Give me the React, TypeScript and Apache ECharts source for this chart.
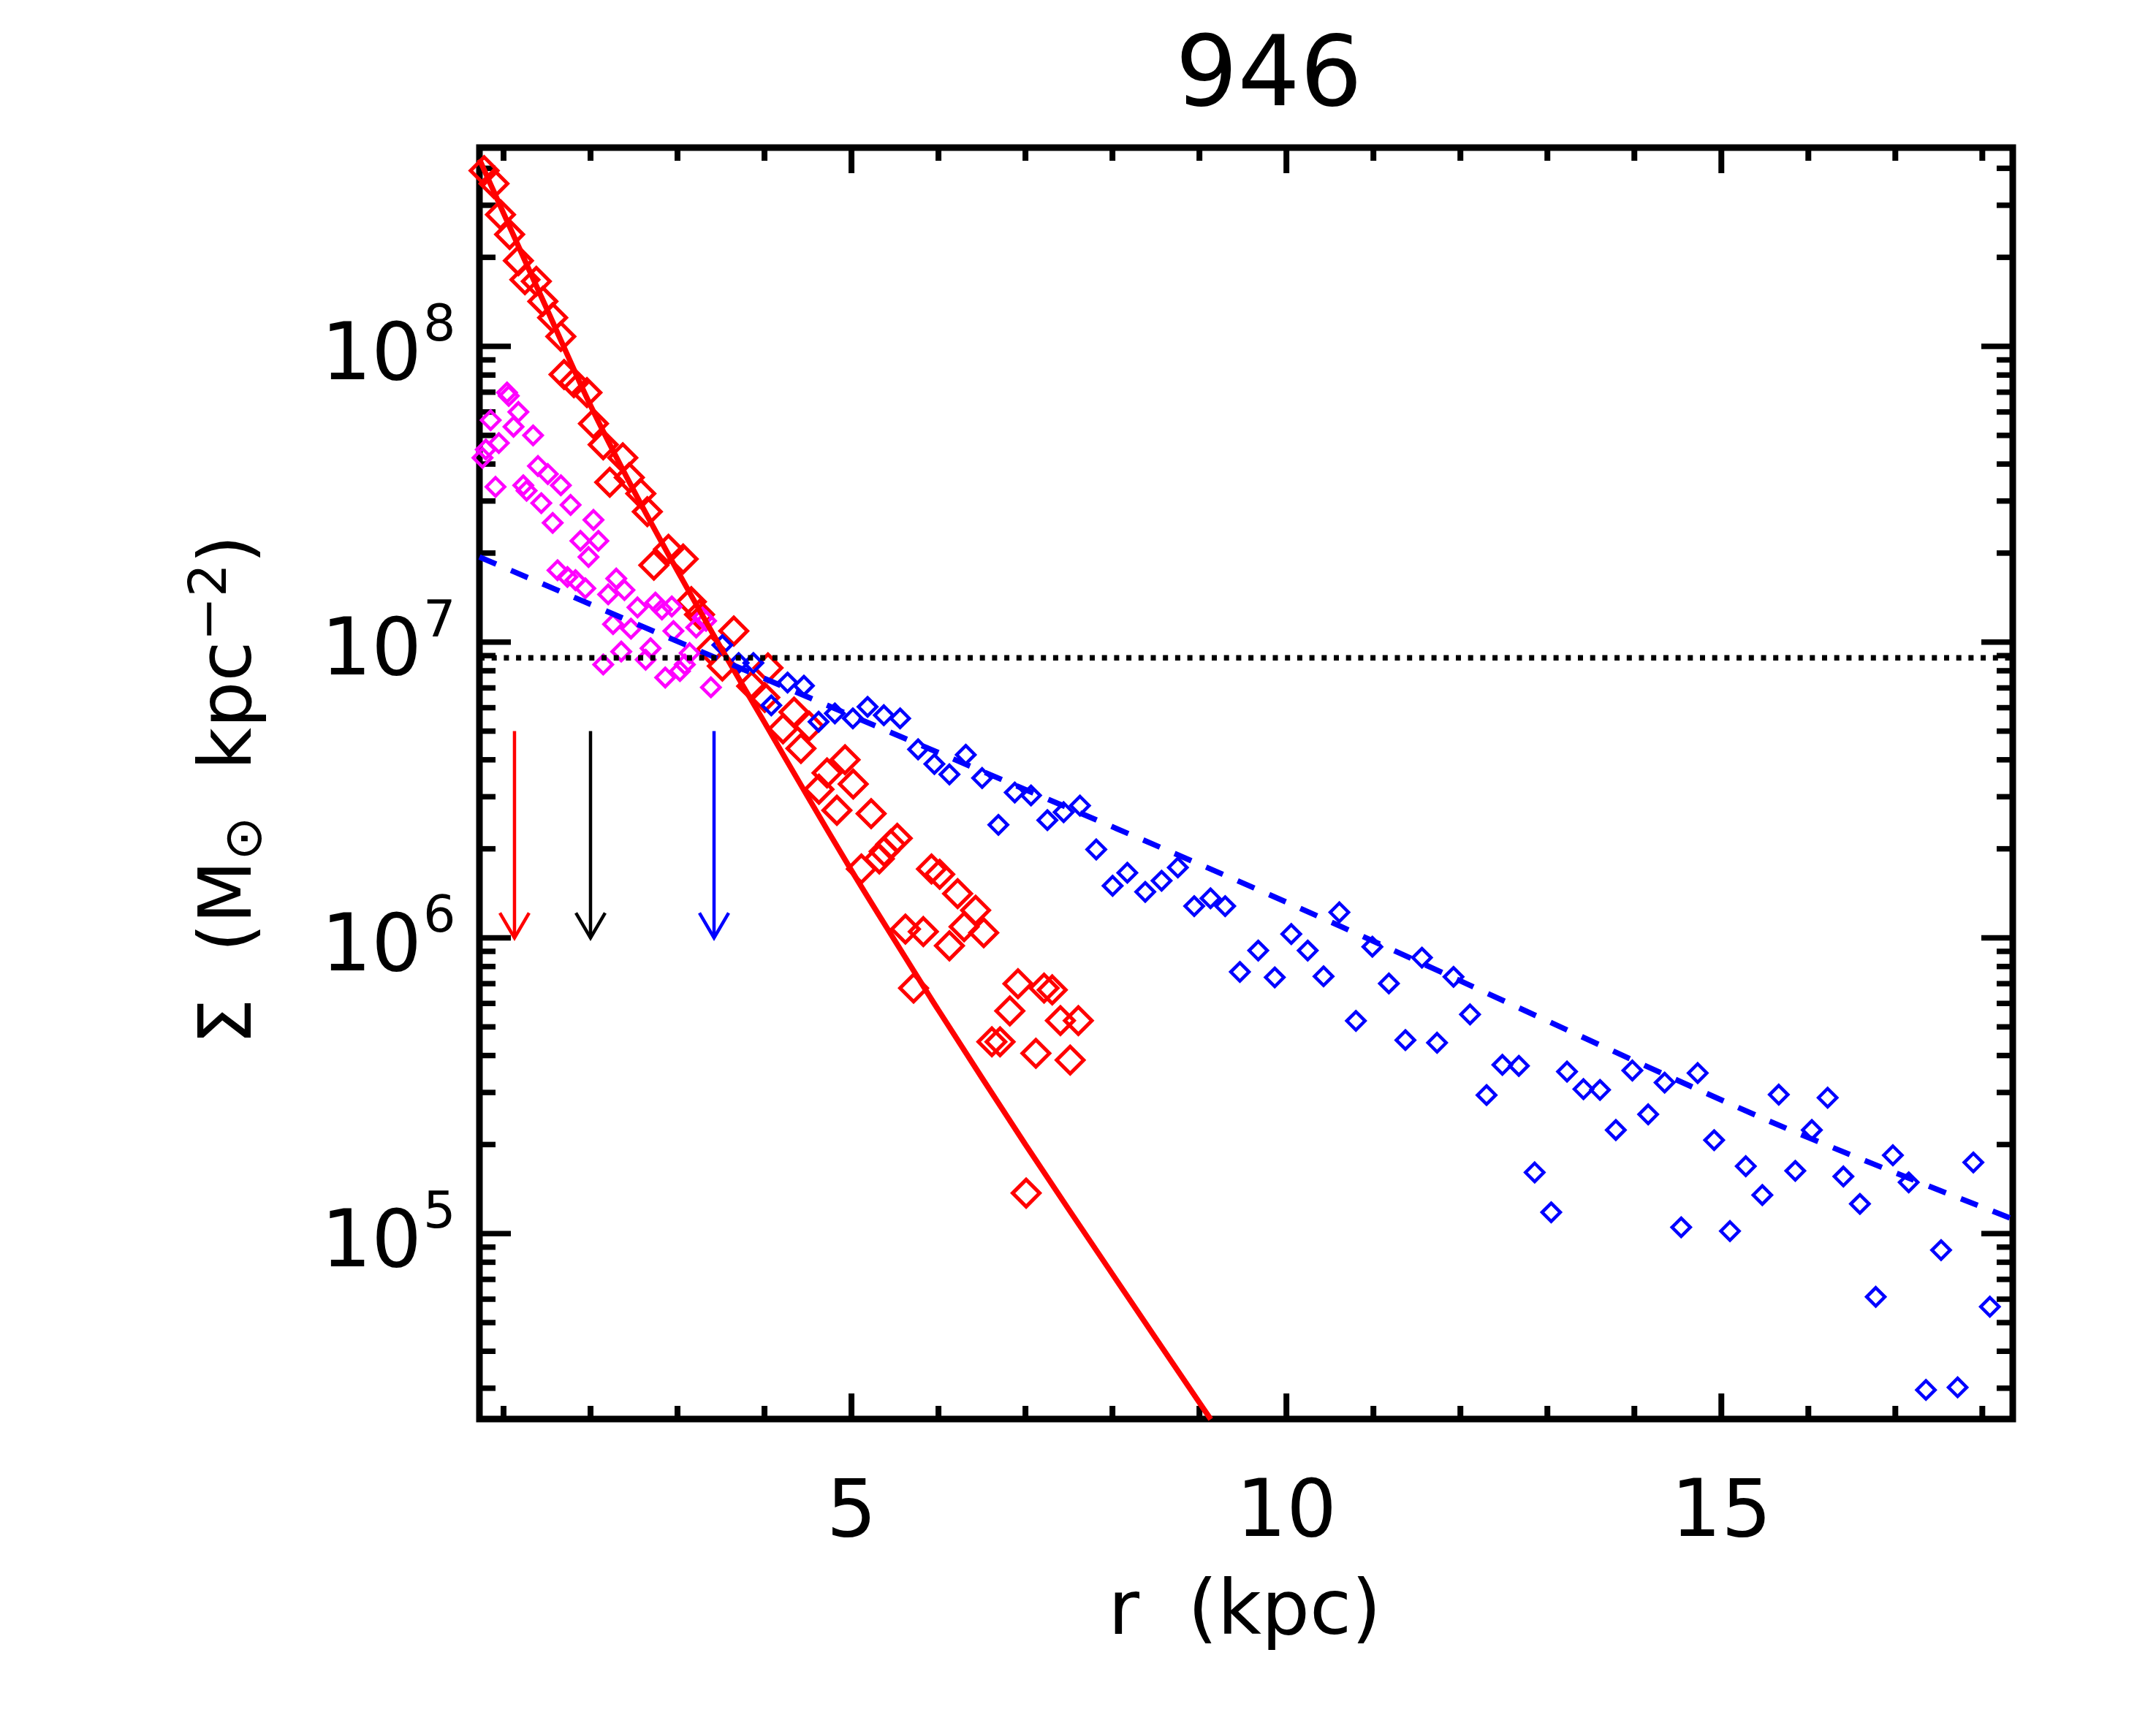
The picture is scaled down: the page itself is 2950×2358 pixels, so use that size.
import React, { useEffect, useRef } from "react";
import * as echarts from "echarts";

const TITLE = "946";
const X_TITLE = "r\u00A0\u00A0(kpc)";
const X_MIN = 0.723;
const X_MAX = 18.35;
const Y_MIN = 2.36e4;
const Y_MAX = 4.7e8;

const X_MAJOR_TICKS = [5, 10, 15];
const X_MINOR_TICKS = [1, 2, 3, 4, 6, 7, 8, 9, 11, 12, 13, 14, 16, 17, 18];
const Y_MAJOR_TICKS = [1e5, 1e6, 1e7, 1e8];
const Y_MINOR_TICKS = [
  3e4, 4e4, 5e4, 6e4, 7e4, 8e4, 9e4,
  2e5, 3e5, 4e5, 5e5, 6e5, 7e5, 8e5, 9e5,
  2e6, 3e6, 4e6, 5e6, 6e6, 7e6, 8e6, 9e6,
  2e7, 3e7, 4e7, 5e7, 6e7, 7e7, 8e7, 9e7,
  2e8, 3e8, 4e8,
];

// red diamonds
const RED_R = [0.777, 0.890, 0.965, 1.070, 1.171, 1.246, 1.377, 1.452, 1.565, 1.659, 1.696, 1.809, 1.959, 2.034, 2.146, 2.221, 2.371, 2.446, 2.578, 2.653, 2.728, 2.896, 3.065, 3.159, 3.253, 3.384, 3.516, 3.647, 3.853, 4.003, 4.040, 4.213, 4.340, 4.419, 4.513, 4.626, 4.719, 4.832, 4.926, 5.020, 5.114, 5.226, 5.320, 5.376, 5.451, 5.526, 5.620, 5.714, 5.826, 5.920, 6.014, 6.126, 6.220, 6.295, 6.427, 6.520, 6.614, 6.708, 6.820, 6.914, 7.008, 7.120, 7.214, 7.308, 7.402, 7.514, 7.608];
const RED_S = [3.93e8, 3.55e8, 2.79e8, 2.39e8, 1.95e8, 1.68e8, 1.66e8, 1.42e8, 1.25e8, 1.08e8, 8.03e7, 7.54e7, 6.98e7, 5.48e7, 4.65e7, 3.47e7, 4.2e7, 3.6e7, 3.18e7, 2.76e7, 1.82e7, 2.06e7, 1.91e7, 1.37e7, 1.24e7, 9.42e6, 8.3e6, 1.09e7, 7.1e6, 6.5e6, 8.18e6, 5.09e6, 5.8e6, 4.37e6, 5.2e6, 3.18e6, 3.61e6, 2.7e6, 4.0e6, 3.31e6, 1.71e6, 2.63e6, 1.85e6, 1.96e6, 2.07e6, 2.17e6, 1.07e6, 6.76e5, 1.05e6, 1.71e6, 1.64e6, 9.4e5, 1.41e6, 1.09e6, 1.24e6, 1.04e6, 4.45e5, 4.45e5, 5.66e5, 7.0e5, 1.37e5, 4.07e5, 6.76e5, 6.67e5, 5.25e5, 3.86e5, 5.25e5];

// magenta diamonds
const MAG_R = [0.758, 0.796, 0.852, 0.908, 0.946, 1.040, 1.060, 1.115, 1.171, 1.227, 1.265, 1.340, 1.396, 1.434, 1.509, 1.565, 1.621, 1.659, 1.734, 1.771, 1.827, 1.884, 1.940, 1.977, 2.034, 2.090, 2.146, 2.203, 2.259, 2.296, 2.353, 2.390, 2.465, 2.540, 2.634, 2.690, 2.746, 2.821, 2.859, 2.934, 2.953, 3.028, 3.084, 3.140, 3.215, 3.290, 3.328, 3.384];
const MAG_S = [4.2e7, 4.48e7, 5.63e7, 3.35e7, 4.71e7, 6.98e7, 6.8e7, 5.35e7, 6.0e7, 3.39e7, 3.25e7, 5.0e7, 3.94e7, 2.95e7, 3.7e7, 2.53e7, 1.75e7, 3.39e7, 1.66e7, 2.91e7, 1.62e7, 2.2e7, 1.52e7, 1.94e7, 2.59e7, 2.2e7, 8.4e6, 1.45e7, 1.15e7, 1.64e7, 9.29e6, 1.5e7, 1.11e7, 1.31e7, 8.72e6, 9.53e6, 1.36e7, 1.29e7, 7.59e6, 1.32e7, 1.09e7, 7.98e6, 8.4e6, 9.18e6, 1.12e7, 1.21e7, 1.18e7, 7.03e6];

// blue diamonds
const BLUE_R = [3.516, 3.703, 3.872, 4.078, 4.265, 4.453, 4.622, 4.809, 5.016, 5.185, 5.372, 5.559, 5.766, 5.953, 6.126, 6.314, 6.502, 6.689, 6.877, 7.064, 7.252, 7.439, 7.627, 7.814, 8.002, 8.171, 8.377, 8.565, 8.752, 8.940, 9.127, 9.296, 9.465, 9.676, 9.866, 10.056, 10.245, 10.427, 10.609, 10.799, 10.988, 11.178, 11.368, 11.558, 11.732, 11.921, 12.111, 12.301, 12.483, 12.672, 12.854, 13.044, 13.226, 13.415, 13.605, 13.787, 13.977, 14.159, 14.348, 14.538, 14.728, 14.917, 15.099, 15.281, 15.471, 15.660, 15.850, 16.040, 16.222, 16.403, 16.593, 16.775, 16.972, 17.154, 17.352, 17.526, 17.716, 17.897, 18.087];
const BLUE_S = [9.77e6, 8.5e6, 8.5e6, 6.11e6, 7.3e6, 7.12e6, 5.38e6, 5.74e6, 5.52e6, 6.04e6, 5.66e6, 5.52e6, 4.34e6, 3.87e6, 3.57e6, 4.16e6, 3.47e6, 2.41e6, 3.1e6, 3.03e6, 2.5e6, 2.66e6, 2.8e6, 1.99e6, 1.5e6, 1.66e6, 1.43e6, 1.56e6, 1.73e6, 1.28e6, 1.36e6, 1.28e6, 7.67e5, 9.06e5, 7.35e5, 1.03e6, 9.06e5, 7.41e5, 1.22e6, 5.24e5, 9.33e5, 7.01e5, 4.51e5, 8.57e5, 4.42e5, 7.38e5, 5.51e5, 2.94e5, 3.72e5, 3.69e5, 1.61e5, 1.18e5, 3.53e5, 3.08e5, 3.06e5, 2.24e5, 3.56e5, 2.53e5, 3.24e5, 1.05e5, 3.49e5, 2.07e5, 1.02e5, 1.69e5, 1.35e5, 2.95e5, 1.63e5, 2.24e5, 2.88e5, 1.56e5, 1.26e5, 6.11e4, 1.84e5, 1.49e5, 2.96e4, 8.79e4, 3.02e4, 1.74e5, 5.66e4];

// red solid model curve
const RED_FIT_R = [0.723, 1.0, 1.5, 2.0, 2.5, 3.0, 3.5, 4.0, 4.5, 5.0, 5.5, 6.0, 7.0, 8.0, 9.13];
const RED_FIT_S = [4.29e8, 2.82e8, 1.334e8, 6.31e7, 3.24e7, 1.74e7, 9.55e6, 5.35e6, 2.99e6, 1.69e6, 9.77e5, 5.69e5, 2.0e5, 7.29e4, 2.355e4];

// blue dashed model curve
const BLUE_FIT_R = [0.723, 4.53, 10.0, 15.51, 18.35];
const BLUE_FIT_S = [1.94e7, 6.46e6, 1.32e6, 2.43e5, 1.12e5];

// dotted horizontal level
const LEVEL_S = 8.85e6;

// arrows
const ARROW_R = [1.126, 2.0, 3.42];
const ARROW_TOP = 5.0e6;
const ARROW_BOTTOM = 1.0e6;
const ARROW_COLORS = ["#ff0000", "#000000", "#0000ff"];

const FONT = "'DejaVu Sans', 'Liberation Sans', sans-serif";

function pairs(xs: number[], ys: number[]) {
  return xs.map((x, i) => [x, ys[i]]);
}

function diamonds(name: string, xs: number[], ys: number[], color: string, size: number, bw: number) {
  return {
    name,
    type: "scatter",
    data: pairs(xs, ys),
    symbol: "diamond",
    symbolSize: size,
    itemStyle: { color: "rgba(0,0,0,0)", borderColor: color, borderWidth: bw, opacity: 1 },
    silent: true,
  };
}

export default function App() {
  const ref = useRef<HTMLDivElement>(null);
  useEffect(() => {
    if (!ref.current) return;
    const chart = echarts.init(ref.current, null, { renderer: "svg" });
    const hidden = {
      axisLine: { show: false },
      axisTick: { show: false },
      axisLabel: { show: false },
      splitLine: { show: false },
    };
    const option: any = {
      animation: false,
      backgroundColor: "#ffffff",
      grid: {
        left: 656,
        right: 196,
        top: 202,
        bottom: 416,
        show: true,
        borderColor: "#000",
        borderWidth: 9,
        backgroundColor: "rgba(0,0,0,0)",
      },
      xAxis: { type: "value", min: X_MIN, max: X_MAX, ...hidden },
      yAxis: { type: "log", logBase: 10, min: Y_MIN, max: Y_MAX, ...hidden },
      series: [
        diamonds("red", RED_R, RED_S, "#ff0000", 37, 5),
        diamonds("magenta", MAG_R, MAG_S, "#ff00ff", 25, 4.5),
        diamonds("blue", BLUE_R, BLUE_S, "#0000ff", 25, 4.5),
        {
          type: "line",
          data: pairs(RED_FIT_R, RED_FIT_S),
          symbol: "none",
          smooth: 0.3,
          lineStyle: { color: "#ff0000", width: 7.5, opacity: 1 },
          silent: true,
        },
        {
          type: "line",
          data: pairs(BLUE_FIT_R, BLUE_FIT_S),
          symbol: "none",
          smooth: 0.3,
          lineStyle: { color: "#0000ff", width: 7.5, type: [25, 22], opacity: 1 },
          silent: true,
        },
        {
          type: "line",
          data: [[X_MIN, LEVEL_S], [X_MAX, LEVEL_S]],
          symbol: "none",
          lineStyle: { color: "#000000", width: 7.5, type: [7, 9.7], opacity: 1 },
          silent: true,
        },
        {
          type: "custom",
          data: ARROW_R.map((r) => [r, ARROW_TOP, ARROW_BOTTOM]),
          silent: true,
          renderItem: (params: any, api: any) => {
            const x = api.value(0);
            const p1 = api.coord([x, api.value(1)]);
            const p2 = api.coord([x, api.value(2)]);
            const color = ARROW_COLORS[params.dataIndex];
            const st = { stroke: color, lineWidth: 4.5, fill: "none" };
            return {
              type: "group",
              children: [
                { type: "line", shape: { x1: p1[0], y1: p1[1], x2: p2[0], y2: p2[1] }, style: st },
                {
                  type: "polyline",
                  shape: { points: [[p2[0] - 20, p2[1] - 34], [p2[0], p2[1]], [p2[0] + 20, p2[1] - 34]] },
                  style: st,
                },
              ],
            };
          },
        },
        {
          type: "custom",
          data: [
            ...X_MAJOR_TICKS.map((v) => [v, Y_MIN, 1]),
            ...X_MINOR_TICKS.map((v) => [v, Y_MIN, 0]),
          ],
          silent: true,
          clip: false,
          renderItem: (params: any, api: any) => {
            const v = api.value(0);
            const major = api.value(2) === 1;
            const b = api.coord([v, Y_MIN]);
            const t = api.coord([v, Y_MAX]);
            const len = major ? 35 : 18;
            const st = { stroke: "#000", lineWidth: 8 };
            const children: any[] = [
              { type: "line", shape: { x1: b[0], y1: b[1], x2: b[0], y2: b[1] - len }, style: st },
              { type: "line", shape: { x1: t[0], y1: t[1], x2: t[0], y2: t[1] + len }, style: st },
            ];
            if (major) {
              children.push({
                type: "text",
                x: b[0],
                y: b[1] + 122,
                style: { text: String(v), fontSize: 108, fontFamily: FONT, fill: "#000", align: "center", verticalAlign: "middle" },
              });
            }
            return { type: "group", children };
          },
        },
        {
          type: "custom",
          data: [
            ...Y_MAJOR_TICKS.map((v) => [X_MIN, v, 1]),
            ...Y_MINOR_TICKS.map((v) => [X_MIN, v, 0]),
          ],
          silent: true,
          clip: false,
          renderItem: (params: any, api: any) => {
            const v = api.value(1);
            const major = api.value(2) === 1;
            const l = api.coord([X_MIN, v]);
            const r = api.coord([X_MAX, v]);
            const len = major ? 43 : 22;
            const st = { stroke: "#000", lineWidth: 7.5 };
            const children: any[] = [
              { type: "line", shape: { x1: l[0], y1: l[1], x2: l[0] + len, y2: l[1] }, style: st },
              { type: "line", shape: { x1: r[0], y1: r[1], x2: r[0] - len, y2: r[1] }, style: st },
            ];
            if (major) {
              const e = Math.round(Math.log10(v));
              children.push({
                type: "text",
                x: l[0] - 79,
                y: l[1] + 7,
                style: { text: "10", fontSize: 108, fontFamily: FONT, fill: "#000", align: "right", verticalAlign: "middle" },
              });
              children.push({
                type: "text",
                x: l[0] - 77,
                y: l[1] - 32,
                style: { text: String(e), fontSize: 70, fontFamily: FONT, fill: "#000", align: "left", verticalAlign: "middle" },
              });
            }
            return { type: "group", children };
          },
        },
      ],
      graphic: [
        {
          type: "text",
          x: 1736,
          y: 98,
          style: { text: TITLE, fontSize: 134, fontFamily: FONT, fill: "#000", align: "center", verticalAlign: "middle" },
        },
        {
          type: "text",
          x: 1703,
          y: 2200,
          style: { text: X_TITLE, fontSize: 104, fontFamily: FONT, fill: "#000", align: "center", verticalAlign: "middle" },
        },
        {
          type: "text",
          x: 308,
          y: 1081,
          rotation: Math.PI / 2,
          style: {
            text: "{n|Σ\u00A0\u00A0(M}{sub|⊙}{n|\u00A0\u00A0kpc}{sup|−2}{n|)}",
            fill: "#000",
            align: "center",
            verticalAlign: "middle",
            rich: {
              n: { fontSize: 100, fontFamily: FONT, lineHeight: 120, fill: "#000" },
              sub: { fontSize: 72, fontFamily: FONT, lineHeight: 51, verticalAlign: "bottom", fill: "#000" },
              sup: { fontSize: 72, fontFamily: FONT, lineHeight: 50, verticalAlign: "top", fill: "#000" },
            },
          },
        },
      ],
    };
    chart.setOption(option);
    return () => chart.dispose();
  }, []);
  return (
    <div
      ref={ref}
      style={{ position: "absolute", left: 0, top: 0, width: 2950, height: 2358, background: "#fff" }}
    />
  );
}
